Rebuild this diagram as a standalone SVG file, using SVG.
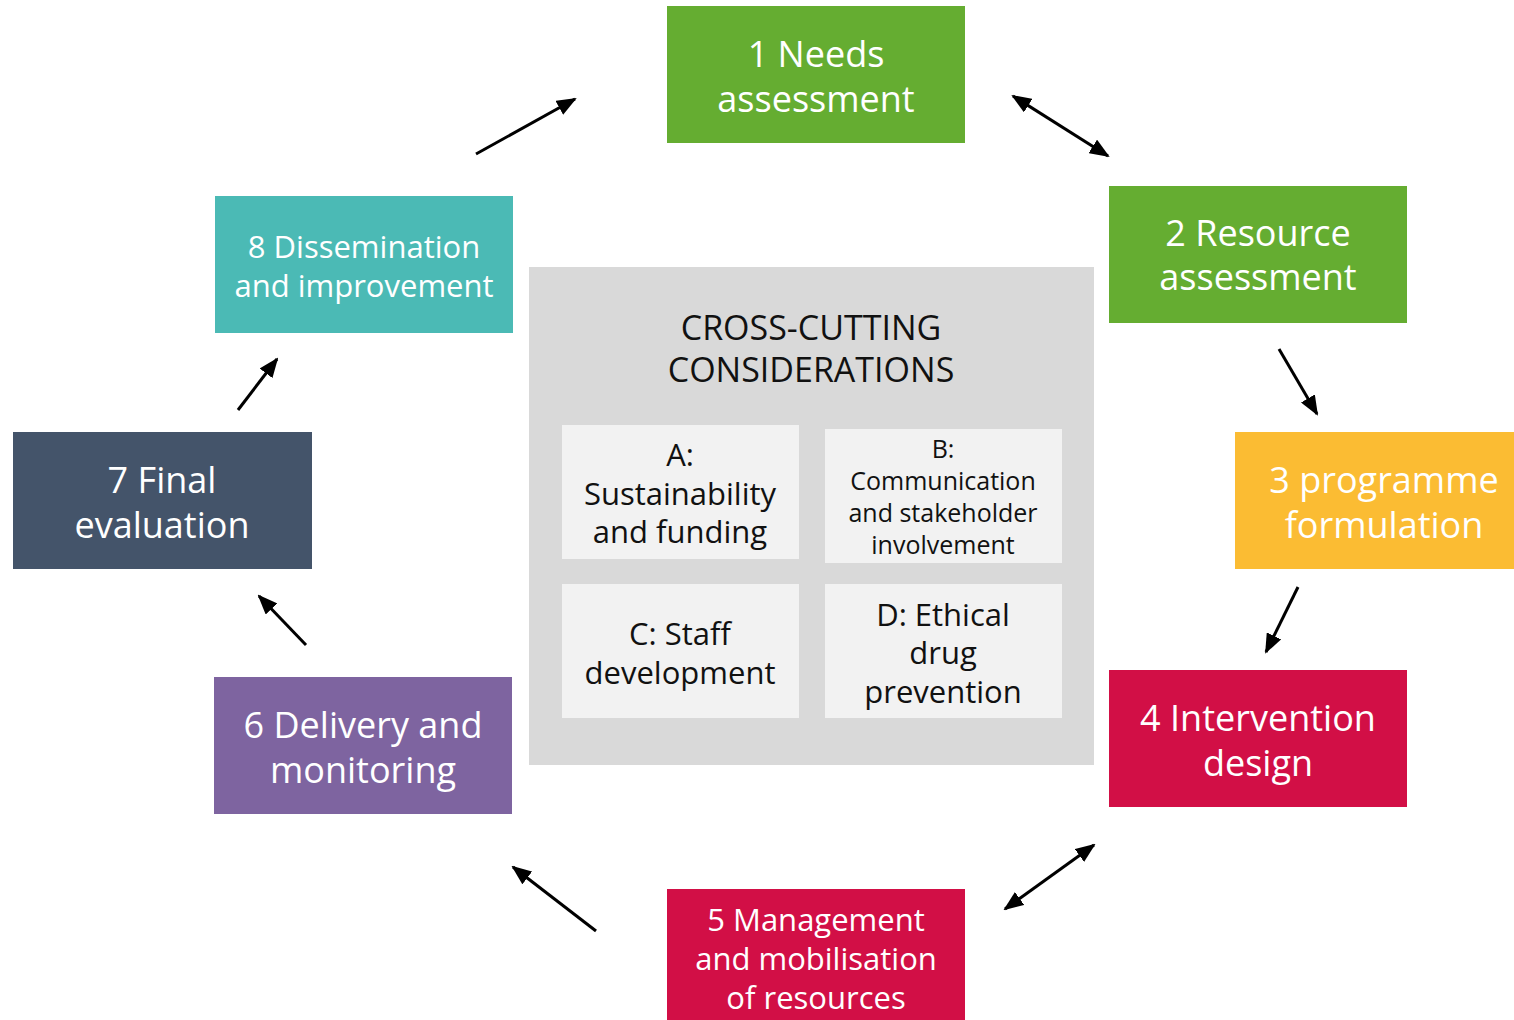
<svg xmlns="http://www.w3.org/2000/svg" width="1514" height="1020" viewBox="0 0 1514 1020">
  <style>
    .lbl { font-family: "Open Sans", "Noto Sans", "DejaVu Sans", sans-serif; fill: #ffffff; text-anchor: middle; }
    .big { font-size: 36px; }
    .mid { font-size: 31px; }
    .dark { font-family: "Open Sans", "Noto Sans", "DejaVu Sans", sans-serif; fill: #111111; text-anchor: middle; }
    .conn { stroke: #000000; stroke-width: 3; fill: none; }
  </style>
  <defs>
    <marker id="head" viewBox="0 0 20 16" refX="18" refY="8" markerWidth="20" markerHeight="16" markerUnits="userSpaceOnUse" orient="auto-start-reverse">
      <path d="M0,0 L20,8 L0,16 Z" fill="#000000"/>
    </marker>
  </defs>
  <rect width="1514" height="1020" fill="#ffffff"/>

  <!-- central panel -->
  <g id="cross-cutting">
    <rect x="529" y="267" width="565" height="498" fill="#d9d9d9"/>
    <text class="dark" font-size="34" x="811" y="340">CROSS-CUTTING</text>
    <text class="dark" font-size="34" x="811" y="382">CONSIDERATIONS</text>
  </g>
  <g id="considerationA">
    <rect x="562" y="425" width="237" height="134" fill="#f2f2f2"/>
    <text class="dark" font-size="31" x="680" y="466">A:</text>
    <text class="dark" font-size="31" x="680" y="505">Sustainability</text>
    <text class="dark" font-size="31" x="680" y="543">and funding</text>
  </g>
  <g id="considerationB">
    <rect x="825" y="429" width="237" height="134" fill="#f2f2f2"/>
    <text class="dark" font-size="25" x="943" y="458">B:</text>
    <text class="dark" font-size="25" x="943" y="490">Communication</text>
    <text class="dark" font-size="25" x="943" y="522">and stakeholder</text>
    <text class="dark" font-size="25" x="943" y="554">involvement</text>
  </g>
  <g id="considerationC">
    <rect x="562" y="584" width="237" height="134" fill="#f2f2f2"/>
    <text class="dark" font-size="31" x="680" y="645">C: Staff</text>
    <text class="dark" font-size="31" x="680" y="684">development</text>
  </g>
  <g id="considerationD">
    <rect x="825" y="584" width="237" height="134" fill="#f2f2f2"/>
    <text class="dark" font-size="31" x="943" y="626">D: Ethical</text>
    <text class="dark" font-size="31" x="943" y="664">drug</text>
    <text class="dark" font-size="31" x="943" y="703">prevention</text>
  </g>

  <!-- cycle stages -->
  <g id="stage1">
    <rect x="667" y="6" width="298" height="137" fill="#65ad31"/>
    <text class="lbl big" x="816" y="67">1 Needs</text>
    <text class="lbl big" x="816" y="112">assessment</text>
  </g>
  <g id="stage2">
    <rect x="1109" y="186" width="298" height="137" fill="#65ad31"/>
    <text class="lbl big" x="1258" y="246">2 Resource</text>
    <text class="lbl big" x="1258" y="290">assessment</text>
  </g>
  <g id="stage3">
    <rect x="1235" y="432" width="279" height="137" fill="#fbbc33"/>
    <text class="lbl big" x="1384" y="493">3 programme</text>
    <text class="lbl big" x="1384" y="538">formulation</text>
  </g>
  <g id="stage4">
    <rect x="1109" y="670" width="298" height="137" fill="#d20f46"/>
    <text class="lbl big" x="1258" y="731">4 Intervention</text>
    <text class="lbl big" x="1258" y="776">design</text>
  </g>
  <g id="stage5">
    <rect x="667" y="889" width="298" height="131" fill="#d20f46"/>
    <text class="lbl mid" x="816" y="931">5 Management</text>
    <text class="lbl mid" x="816" y="970">and mobilisation</text>
    <text class="lbl mid" x="816" y="1009">of resources</text>
  </g>
  <g id="stage6">
    <rect x="214" y="677" width="298" height="137" fill="#7e64a0"/>
    <text class="lbl big" x="363" y="738">6 Delivery and</text>
    <text class="lbl big" x="363" y="783">monitoring</text>
  </g>
  <g id="stage7">
    <rect x="13" y="432" width="299" height="137" fill="#44546a"/>
    <text class="lbl big" x="162" y="493">7 Final</text>
    <text class="lbl big" x="162" y="538">evaluation</text>
  </g>
  <g id="stage8">
    <rect x="215" y="196" width="298" height="137" fill="#4bbab5"/>
    <text class="lbl mid" x="364" y="258">8 Dissemination</text>
    <text class="lbl mid" x="364" y="297">and improvement</text>
  </g>

  <!-- connectors -->
  <g id="connectors">
    <line class="conn" x1="476" y1="154" x2="575" y2="99" marker-end="url(#head)"/>
    <line class="conn" x1="1013" y1="96" x2="1108" y2="156" marker-start="url(#head)" marker-end="url(#head)"/>
    <line class="conn" x1="1279" y1="349" x2="1317" y2="414" marker-end="url(#head)"/>
    <line class="conn" x1="1298" y1="587" x2="1266" y2="652" marker-end="url(#head)"/>
    <line class="conn" x1="1094" y1="845" x2="1005" y2="909" marker-start="url(#head)" marker-end="url(#head)"/>
    <line class="conn" x1="596" y1="931" x2="513" y2="867" marker-end="url(#head)"/>
    <line class="conn" x1="306" y1="645" x2="259" y2="596" marker-end="url(#head)"/>
    <line class="conn" x1="238" y1="410" x2="277" y2="359" marker-end="url(#head)"/>
  </g>
</svg>
